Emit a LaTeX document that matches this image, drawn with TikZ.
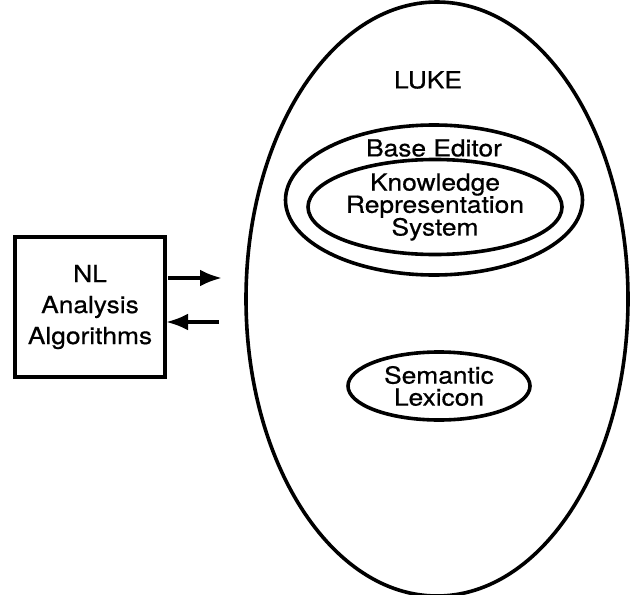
\documentclass[tikz,border=0pt]{standalone}
\usepackage{fontspec}
\setmainfont{TeX Gyre Heros}[FakeStretch=1.12,FakeBold=0.6]
\usetikzlibrary{shapes.geometric,arrows.meta}
\begin{document}
\begin{tikzpicture}[x=1pt,y=-1pt,
  every node/.style={font=\fontsize{23.5}{22}\selectfont},
  oval/.style={draw,ellipse,line width=3.6pt,inner sep=0pt},
  arr/.style={line width=3.8pt,-{Latex[length=22pt,width=17pt]}}]
\useasboundingbox (0,0) rectangle (634,594);
\node[oval,minimum width=382pt,minimum height=594pt] (luke) at (437,299) {};
\node (lukel) at (428,80) {LUKE};
\node[oval,minimum width=297pt,minimum height=150pt] (base) at (434,200) {};
\node (basel) at (434,148) {Base Editor};
\node[oval,minimum width=254pt,minimum height=86pt,align=center,font=\fontsize{23.5}{22}\selectfont] (krs) at (435,207) {Knowledge\\[-1pt]Representation\\[-1pt]System};
\node[oval,minimum width=182pt,minimum height=68pt,align=center,font=\fontsize{23.5}{22}\selectfont] (lex) at (439,386) {Semantic\\Lexicon};
\node[draw,line width=3.6pt,minimum width=150pt,minimum height=140pt,align=center,font=\fontsize{23.5}{31}\selectfont] (nl) at (90,307) {NL\\Analysis\\Algorithms};
\coordinate (o1) at (168,278);
\coordinate (o2) at (222,278);
\coordinate (i1) at (219,322);
\coordinate (i2) at (166,322);
\draw[arr] (o1) -- (o2);
\draw[arr] (i1) -- (i2);
\end{tikzpicture}
\end{document}
